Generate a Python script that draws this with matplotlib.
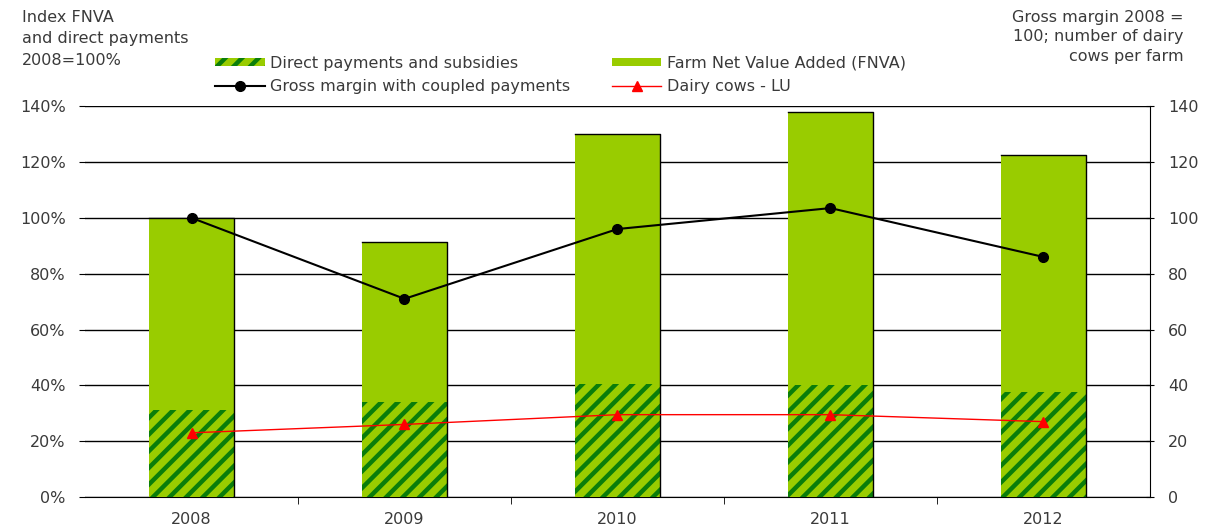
import numpy as np
import matplotlib
matplotlib.use("Agg")
import matplotlib.pyplot as plt
from matplotlib.patches import Patch

# data
years = ["2008", "2009", "2010", "2011", "2012"]
fnva_total = [100, 91.5, 130, 138, 122.5]         # % (bar top)
direct_payments = [31, 34, 40.5, 40, 37.5]        # % (hatched part)
gross_margin = [100, 71, 96, 103.5, 86]           # right axis
dairy_cows = [23, 26, 29.5, 29.5, 27]             # right axis

plt.rcParams['font.family'] = ['DejaVu Sans']
plt.rcParams['hatch.linewidth'] = 3.2
plt.rcParams['hatch.color'] = '#0a7d0a'

green = '#99cc00'
txt = '#3a3a3a'
fs = 11.5

fig = plt.figure(figsize=(12.11, 5.31), dpi=100)
ax = fig.add_axes([0.0702, 0.064, 0.8794, 0.736])
x = np.arange(len(years))
w = 0.4

# grid lines behind bars
ax.set_axisbelow(True)
ax.yaxis.grid(True, color='black', linewidth=1)

ax.bar(x, fnva_total, width=w, color=green, edgecolor='none', zorder=2)
ax.bar(x, direct_payments, width=w, color=green, hatch='//', edgecolor='#0a7d0a',
       linewidth=0, zorder=3)
# dark edge on top and right side of each bar
for xi, top in zip(x, fnva_total):
    ax.plot([xi - w / 2, xi + w / 2, xi + w / 2], [top, top, 0],
            color='black', linewidth=1, zorder=4)

ax.set_xlim(-0.5, len(years) - 0.5)
ax.set_ylim(0, 140)
ax.set_yticks(np.arange(0, 141, 20))
ax.set_yticklabels([f"{v}%" for v in range(0, 141, 20)])
ax.set_xticks(x)
ax.set_xticklabels(years)
ax.set_xticks(np.arange(0.5, len(years) - 1, 1), minor=True)
ax.tick_params(axis='x', which='major', length=0, pad=11, labelsize=fs, labelcolor=txt)
ax.tick_params(axis='x', which='minor', length=5, direction='out', color='black')
ax.tick_params(axis='y', length=4, pad=10, labelsize=fs, labelcolor=txt, color='black')
for s in ['left', 'top', 'right']:
    ax.spines[s].set_visible(False)
ax.spines['bottom'].set_color('black')

ax2 = ax.twinx()
ax2.set_ylim(0, 140)
ax2.set_yticks(np.arange(0, 141, 20))
ax2.tick_params(axis='y', length=6, direction='inout', pad=10, labelsize=fs, labelcolor=txt)
for s in ['left', 'top', 'bottom']:
    ax2.spines[s].set_visible(False)
ax2.spines['right'].set_color('black')

l1, = ax2.plot(x, gross_margin, color='black', linewidth=1.5, marker='o',
               markersize=7, zorder=5)
l2, = ax2.plot(x, dairy_cows, color='red', linewidth=1, marker='^',
               markersize=7, zorder=5)

h_dp = Patch(facecolor=green, hatch='//', edgecolor='#0a7d0a', linewidth=0)
h_fn = Patch(facecolor=green, edgecolor='none')
fig.legend([h_dp, l1, h_fn, l2],
           ["Direct payments and subsidies", "Gross margin with coupled payments",
            "Farm Net Value Added (FNVA)", "Dairy cows - LU"],
           ncol=2, loc='upper left', bbox_to_anchor=(0.171, 0.91), frameon=False,
           fontsize=fs, handlelength=3.1, handleheight=0.45, handletextpad=0.35,
           columnspacing=2.6, labelspacing=0.5, borderpad=0, labelcolor=txt)

fig.text(0.018, 0.982, "Index FNVA\nand direct payments\n2008=100%", ha='left', va='top',
         fontsize=fs, color=txt, linespacing=1.55)
fig.text(0.977, 0.982, "Gross margin 2008 =\n100; number of dairy\ncows per farm",
         ha='right', va='top', fontsize=fs, color=txt, linespacing=1.4, multialignment='right')

fig.savefig("out.png", dpi=100)
